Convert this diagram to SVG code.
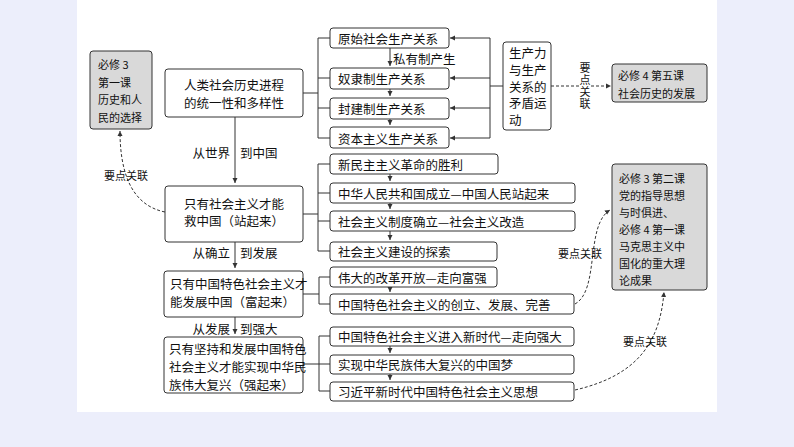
<svg xmlns="http://www.w3.org/2000/svg" width="794" height="447" viewBox="0 0 794 447">
<style>
.b{fill:#fff;stroke:#333;stroke-width:1}
.g{fill:#d9d9d9;stroke:#333;stroke-width:1}
text{font-family:"Noto Sans CJK SC","Liberation Serif",sans-serif;font-size:12.5px;fill:#111;dominant-baseline:central}
.l{fill:none;stroke:#333;stroke-width:1}
.d{fill:none;stroke:#333;stroke-width:1;stroke-dasharray:3,2}
.s{font-size:11px}
</style>
<defs><marker id="a" markerWidth="6" markerHeight="6" refX="5" refY="3" orient="auto" markerUnits="userSpaceOnUse"><path d="M0,0.5L5,3L0,5.5z" fill="#333"/></marker></defs>
<rect width="794" height="447" fill="#eceefb"/>
<rect x="77" y="0" width="640" height="412" fill="#fff"/>
<g id="connectors">
<path class="l" d="M235,117V183" marker-end="url(#a)"/>
<path class="l" d="M235,242V268" marker-end="url(#a)"/>
<path class="l" d="M235,317V334" marker-end="url(#a)"/>
<path class="l" d="M303,93H318M318,38V138M318,38H330M318,78H330M318,108H330M318,138H330"/>
<path class="l" d="M303,214H318M318,164V251M318,164H330M318,193H330M318,221H330M318,251H330"/>
<path class="l" d="M303,294H319M319,277V304M319,277H330M319,304H330"/>
<path class="l" d="M303,364H319M319,336V391M319,336H330M319,364H330M319,391H330"/>
<path class="l" d="M390,48V66" marker-end="url(#a)"/>
<path class="l" d="M390,89V96" marker-end="url(#a)"/>
<path class="l" d="M390,119V125" marker-end="url(#a)"/>
<path class="l" d="M390,174V181" marker-end="url(#a)"/>
<path class="l" d="M390,203V209" marker-end="url(#a)"/>
<path class="l" d="M390,231V240" marker-end="url(#a)"/>
<path class="l" d="M390,287V292" marker-end="url(#a)"/>
<path class="l" d="M390,346V353" marker-end="url(#a)"/>
<path class="l" d="M390,374V380" marker-end="url(#a)"/>
<path class="l" d="M503,86H490M490,38V138"/>
<path class="l" d="M490,38H450" marker-end="url(#a)"/>
<path class="l" d="M490,78H450" marker-end="url(#a)"/>
<path class="l" d="M490,108H450" marker-end="url(#a)"/>
<path class="l" d="M490,138H450" marker-end="url(#a)"/>
<path class="d" d="M551,86H611" marker-end="url(#a)"/>
<path class="d" d="M165,212C130,205 120,170 120,131" marker-end="url(#a)"/>
<path class="d" d="M575,304C600,290 585,225 610,210" marker-end="url(#a)"/>
<path class="d" d="M575,390C640,375 660,340 664,292" marker-end="url(#a)"/>
</g>
<g id="n1"><rect class="g" x="90" y="51" width="62" height="78" rx="3"/>
<text x="98" y="64" class="s">必修 3</text><text x="98" y="82" class="s">第一课</text><text x="98" y="99" class="s">历史和人</text><text x="98" y="117" class="s">民的选择</text></g>
<g id="n2"><rect class="b" x="165" y="69" width="138" height="48" rx="3"/><text x="234" y="84" text-anchor="middle">人类社会历史进程</text><text x="234" y="102" text-anchor="middle">的统一性和多样性</text></g>
<g id="n3"><rect class="b" x="165" y="186" width="138" height="56" rx="3"/><text x="184" y="203">只有社会主义才能</text><text x="184" y="220">救中国（站起来）</text></g>
<g id="n4"><rect class="b" x="164" y="271" width="139" height="46" rx="3"/><text x="170" y="283">只有中国特色社会主义才</text><text x="170" y="301">能发展中国（富起来）</text></g>
<g id="n5"><rect class="b" x="164" y="337" width="139" height="56" rx="3"/><text x="169" y="348">只有坚持和发展中国特色</text><text x="169" y="366">社会主义才能实现中华民</text><text x="169" y="384">族伟大复兴（强起来）</text></g>
<g id="labels">
<text x="230" y="152" text-anchor="end">从世界</text><text x="240" y="152">到中国</text>
<text x="230" y="252" text-anchor="end">从确立</text><text x="240" y="252">到发展</text>
<text x="230" y="328" text-anchor="end">从发展</text><text x="240" y="328">到强大</text>
<text x="393" y="58">私有制产生</text>
<text x="126" y="175" class="s" text-anchor="middle">要点关联</text>
<rect x="579" y="62" width="12" height="50" fill="#fff"/>
<text x="585" y="62" class="s" style="writing-mode:vertical-rl;dominant-baseline:auto;letter-spacing:1px">要点关联</text>
<text x="580" y="253" class="s" text-anchor="middle">要点关联</text>
<text x="645" y="341" class="s" text-anchor="middle">要点关联</text>
</g>
<g id="r1"><rect class="b" x="330" y="28" width="119" height="20" rx="3"/><text x="338" y="38">原始社会生产关系</text></g>
<g id="r2"><rect class="b" x="330" y="68" width="119" height="21" rx="3"/><text x="338" y="78">奴隶制生产关系</text></g>
<g id="r3"><rect class="b" x="330" y="98" width="119" height="21" rx="3"/><text x="338" y="108">封建制生产关系</text></g>
<g id="r4"><rect class="b" x="330" y="127" width="119" height="21" rx="3"/><text x="338" y="138">资本主义生产关系</text></g>
<g id="r5"><rect class="b" x="503" y="42" width="48" height="88" rx="3"/><text x="509" y="52">生产力</text><text x="509" y="69">与生产</text><text x="509" y="86">关系的</text><text x="509" y="102">矛盾运</text><text x="509" y="119">动</text></g>
<g id="r6"><rect class="g" x="612" y="64" width="95" height="38" rx="3"/><text x="618" y="75" class="s">必修 4 第五课</text><text x="618" y="93" class="s">社会历史的发展</text></g>
<g id="c1"><rect class="b" x="330" y="154" width="168" height="20" rx="3"/><text x="338" y="164">新民主主义革命的胜利</text></g>
<g id="c2"><rect class="b" x="330" y="183" width="245" height="20" rx="3"/><text x="338" y="193">中华人民共和国成立—中国人民站起来</text></g>
<g id="c3"><rect class="b" x="330" y="211" width="245" height="20" rx="3"/><text x="338" y="221">社会主义制度确立—社会主义改造</text></g>
<g id="c4"><rect class="b" x="330" y="242" width="167" height="19" rx="3"/><text x="338" y="251">社会主义建设的探索</text></g>
<g id="c5"><rect class="b" x="330" y="267" width="167" height="20" rx="3"/><text x="338" y="277">伟大的改革开放—走向富强</text></g>
<g id="c6"><rect class="b" x="330" y="294" width="244" height="20" rx="3"/><text x="338" y="304">中国特色社会主义的创立、发展、完善</text></g>
<g id="c7"><rect class="b" x="330" y="327" width="244" height="19" rx="3"/><text x="338" y="336">中国特色社会主义进入新时代—走向强大</text></g>
<g id="c8"><rect class="b" x="330" y="355" width="244" height="19" rx="3"/><text x="338" y="364">实现中华民族伟大复兴的中国梦</text></g>
<g id="c9"><rect class="b" x="330" y="382" width="244" height="19" rx="3"/><text x="338" y="391">习近平新时代中国特色社会主义思想</text></g>
<g id="r7"><rect class="g" x="612" y="164" width="95" height="126" rx="3"/>
<text x="619" y="178" class="s">必修 3 第二课</text><text x="619" y="195" class="s">党的指导思想</text><text x="619" y="212" class="s">与时俱进、</text><text x="619" y="229" class="s">必修 4 第一课</text><text x="619" y="246" class="s">马克思主义中</text><text x="619" y="263" class="s">国化的重大理</text><text x="619" y="280" class="s">论成果</text></g>
</svg>
